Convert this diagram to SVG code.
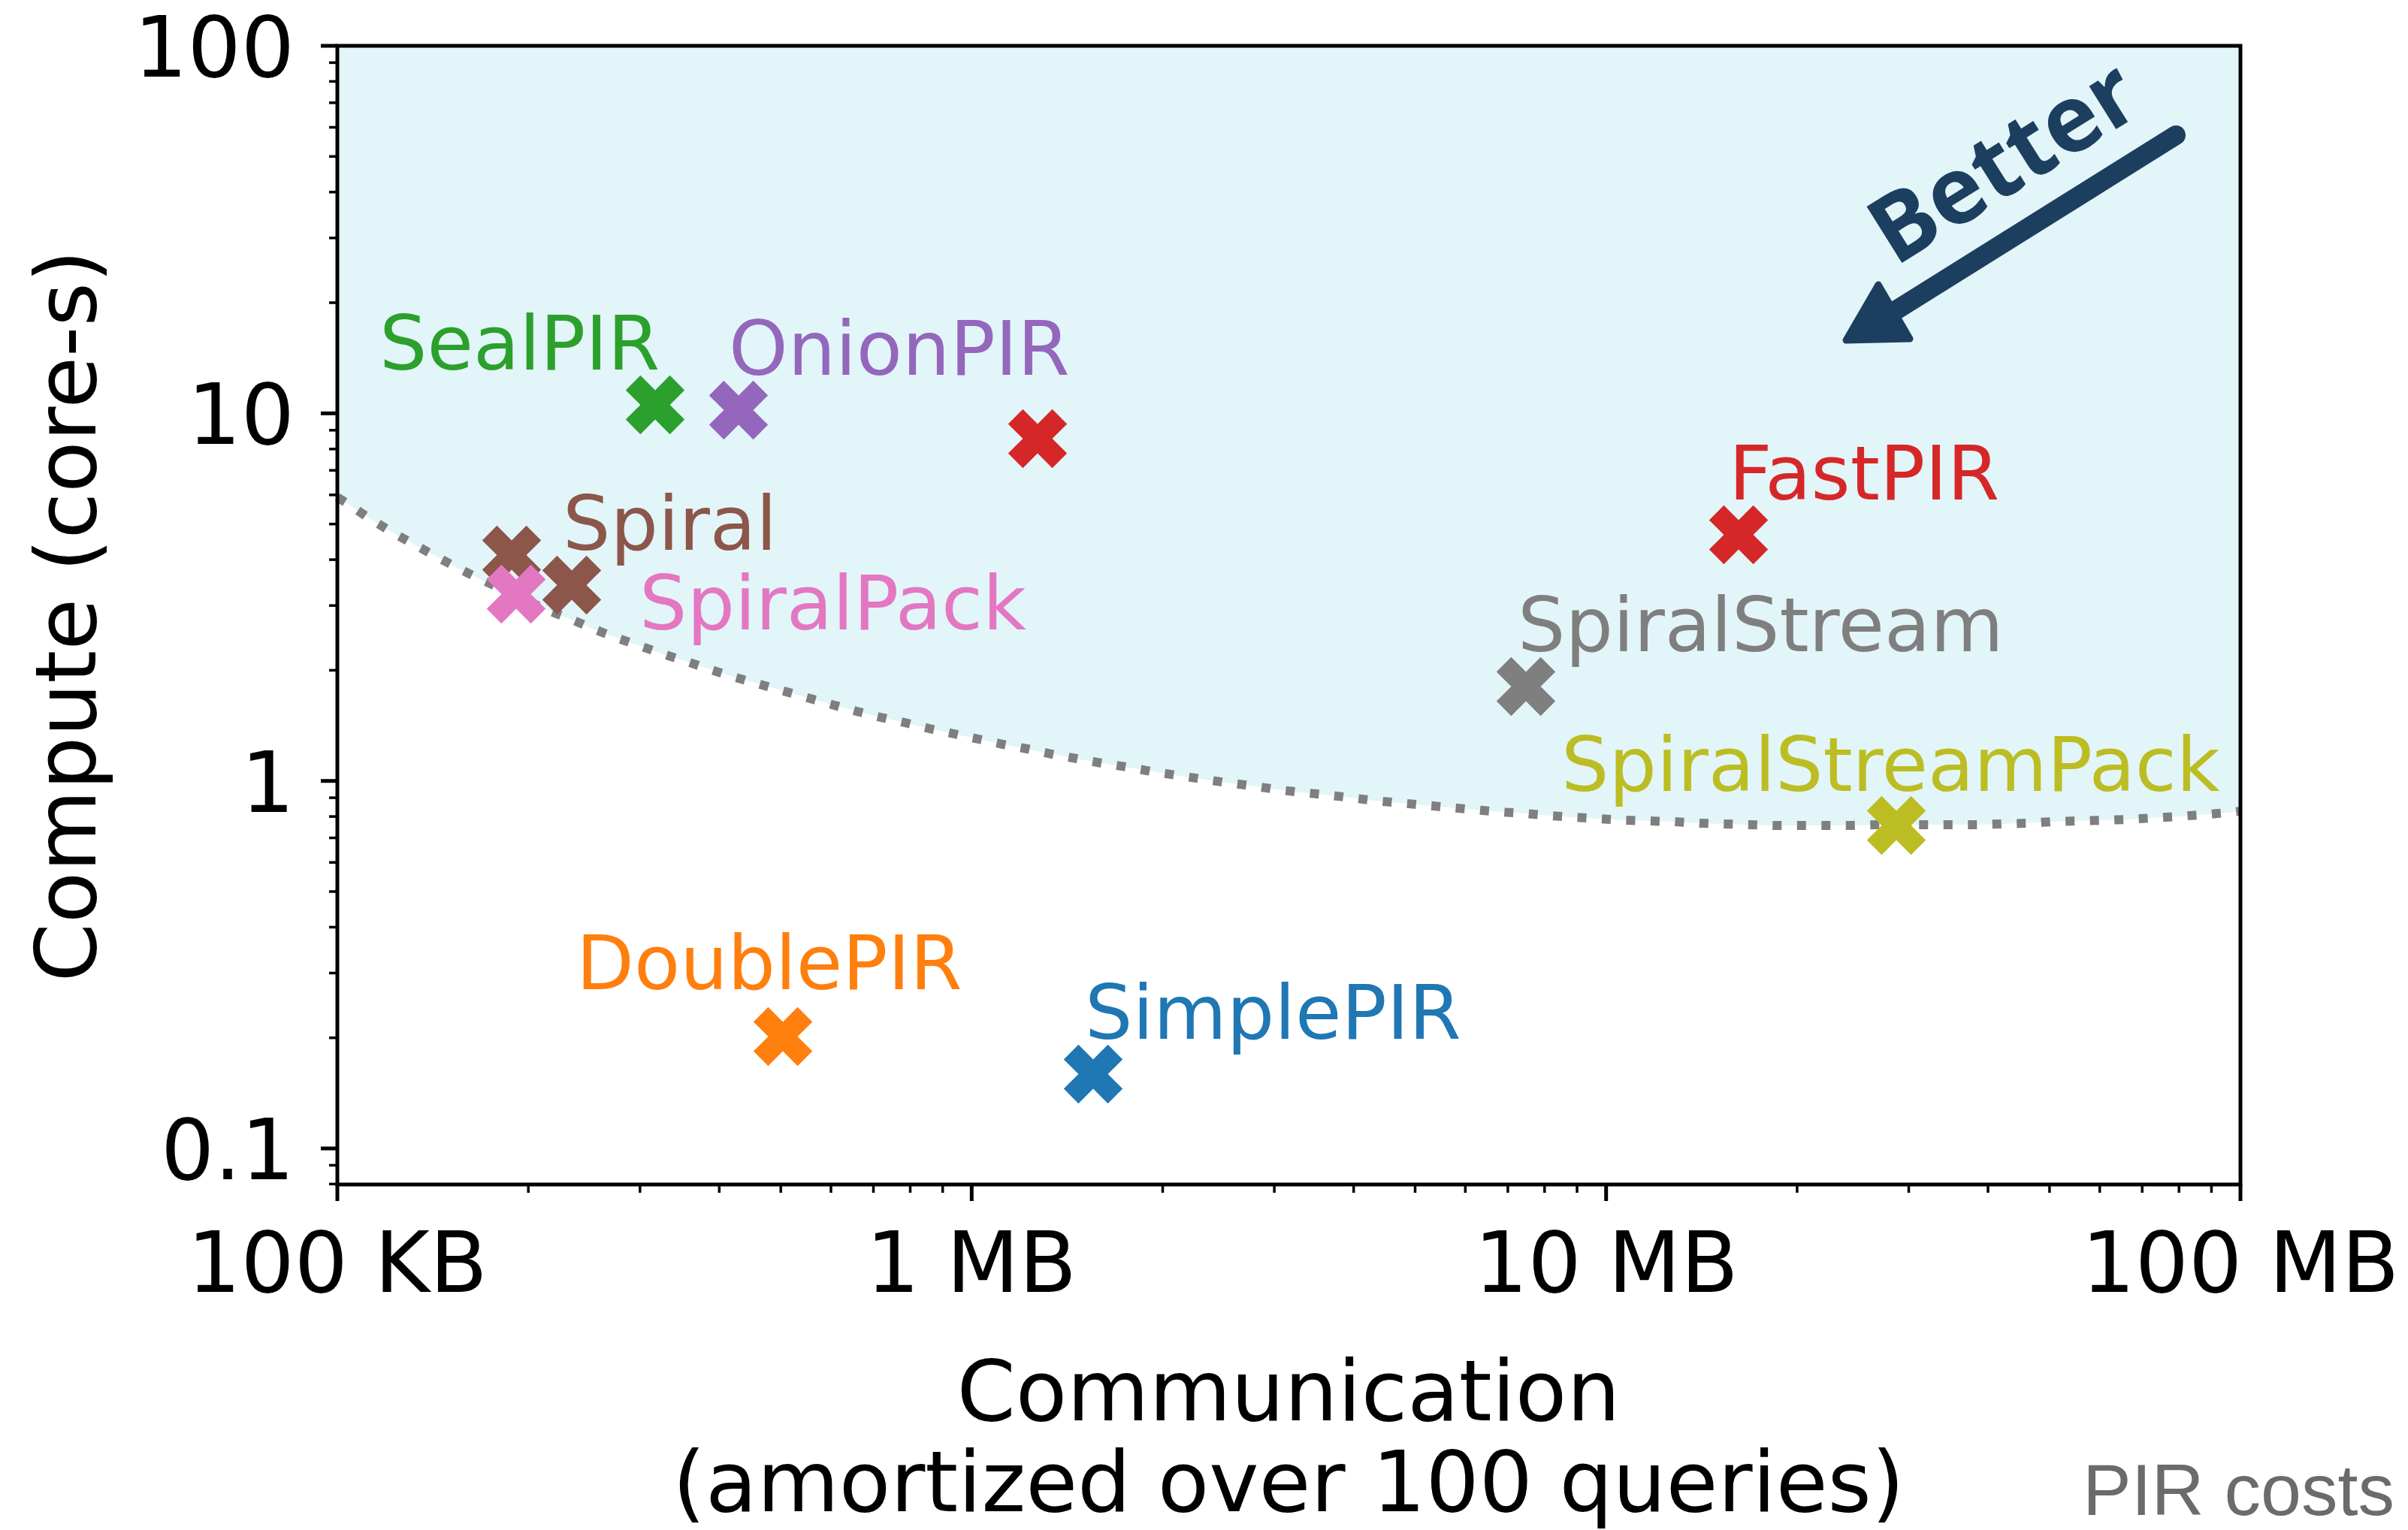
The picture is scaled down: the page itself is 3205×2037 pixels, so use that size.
<svg xmlns="http://www.w3.org/2000/svg" xmlns:xlink="http://www.w3.org/1999/xlink" width="3205" height="2037" viewBox="0 0 3205 2037">
<style>
.lbl{font-family:"DejaVu Sans",sans-serif;font-size:100px}
.tick{font-family:"DejaVu Sans",sans-serif;font-size:112px;fill:#000}
.axl{font-family:"DejaVu Sans",sans-serif;font-size:112px;fill:#000;text-anchor:middle}
.maj{stroke:#000;stroke-width:5}
.min{stroke:#000;stroke-width:3.5}
</style>
<defs>
<path id="xm" d="M19.6,-39.2 L0,-19.6 L-19.6,-39.2 L-39.2,-19.6 L-19.6,0 L-39.2,19.6 L-19.6,39.2 L0,19.6 L19.6,39.2 L39.2,19.6 L19.6,0 L39.2,-19.6 Z"/>
</defs>
<rect width="3205" height="2037" fill="#fff"/>
<g id="region">
<polygon fill="#e2f5f8" points="449,61 449,662 462,670 490,689 519,707 548,723 577,739 607,755 637,770 668,784 698,798 728,812 759,824 789,837 820,849 852,860 883,871 915,881 947,892 979,902 1011,911 1043,920 1075,929 1107,938 1140,947 1172,955 1204,962 1237,970 1270,977 1302,984 1335,991 1367,997 1400,1004 1433,1010 1466,1016 1499,1021 1532,1027 1565,1032 1599,1037 1632,1042 1665,1046 1698,1051 1731,1055 1764,1058 1797,1062 1830,1066 1863,1069 1896,1072 1929,1075 1962,1078 1996,1081 2029,1083 2063,1086 2095,1088 2129,1090 2162,1092 2196,1093 2229,1094 2262,1096 2295,1097 2329,1098 2362,1099 2396,1099 2429,1099 2463,1099 2496,1098 2530,1098 2563,1098 2597,1098 2630,1098 2664,1097 2697,1096 2731,1094 2764,1093 2798,1092 2831,1091 2865,1089 2898,1087 2929,1085 2963,1082 2982,1080 2982,61"/>
</g>
<g id="connectors">
<polyline fill="none" stroke="#7f7f7f" stroke-width="12" stroke-dasharray="12 20.5" points="449,662 462,670 490,689 519,707 548,723 577,739 607,755 637,770 668,784 698,798 728,812 759,824 789,837 820,849 852,860 883,871 915,881 947,892 979,902 1011,911 1043,920 1075,929 1107,938 1140,947 1172,955 1204,962 1237,970 1270,977 1302,984 1335,991 1367,997 1400,1004 1433,1010 1466,1016 1499,1021 1532,1027 1565,1032 1599,1037 1632,1042 1665,1046 1698,1051 1731,1055 1764,1058 1797,1062 1830,1066 1863,1069 1896,1072 1929,1075 1962,1078 1996,1081 2029,1083 2063,1086 2095,1088 2129,1090 2162,1092 2196,1093 2229,1094 2262,1096 2295,1097 2329,1098 2362,1099 2396,1099 2429,1099 2463,1099 2496,1098 2530,1098 2563,1098 2597,1098 2630,1098 2664,1097 2697,1096 2731,1094 2764,1093 2798,1092 2831,1091 2865,1089 2898,1087 2929,1085 2963,1082 2982,1080"/>
</g>
<g id="axes">
<rect x="449" y="61" width="2533" height="1516" fill="none" stroke="#000" stroke-width="5"/>
<g class="maj">
<line x1="427" y1="61" x2="449" y2="61"/><line x1="427" y1="550.3" x2="449" y2="550.3"/><line x1="427" y1="1039.7" x2="449" y2="1039.7"/><line x1="427" y1="1529" x2="449" y2="1529"/>
<line x1="449" y1="1577" x2="449" y2="1599"/><line x1="1293.3" y1="1577" x2="1293.3" y2="1599"/><line x1="2137.7" y1="1577" x2="2137.7" y2="1599"/><line x1="2982" y1="1577" x2="2982" y2="1599"/>
</g>
<g class="min">
<line x1="438" y1="403" x2="449" y2="403"/><line x1="438" y1="316.8" x2="449" y2="316.8"/><line x1="438" y1="255.7" x2="449" y2="255.7"/><line x1="438" y1="208.3" x2="449" y2="208.3"/><line x1="438" y1="169.5" x2="449" y2="169.5"/><line x1="438" y1="136.8" x2="449" y2="136.8"/><line x1="438" y1="108.4" x2="449" y2="108.4"/><line x1="438" y1="83.4" x2="449" y2="83.4"/>
<line x1="438" y1="892.4" x2="449" y2="892.4"/><line x1="438" y1="806.2" x2="449" y2="806.2"/><line x1="438" y1="745.1" x2="449" y2="745.1"/><line x1="438" y1="697.7" x2="449" y2="697.7"/><line x1="438" y1="658.9" x2="449" y2="658.9"/><line x1="438" y1="626.2" x2="449" y2="626.2"/><line x1="438" y1="597.8" x2="449" y2="597.8"/><line x1="438" y1="572.8" x2="449" y2="572.8"/>
<line x1="438" y1="1381.7" x2="449" y2="1381.7"/><line x1="438" y1="1295.5" x2="449" y2="1295.5"/><line x1="438" y1="1234.4" x2="449" y2="1234.4"/><line x1="438" y1="1187" x2="449" y2="1187"/><line x1="438" y1="1148.2" x2="449" y2="1148.2"/><line x1="438" y1="1115.5" x2="449" y2="1115.5"/><line x1="438" y1="1087.1" x2="449" y2="1087.1"/><line x1="438" y1="1062.1" x2="449" y2="1062.1"/>
<line x1="438" y1="1576.4" x2="449" y2="1576.4"/><line x1="438" y1="1551.4" x2="449" y2="1551.4"/>
<line x1="703.2" y1="1577" x2="703.2" y2="1588"/><line x1="851.8" y1="1577" x2="851.8" y2="1588"/><line x1="957.3" y1="1577" x2="957.3" y2="1588"/><line x1="1039.2" y1="1577" x2="1039.2" y2="1588"/><line x1="1106" y1="1577" x2="1106" y2="1588"/><line x1="1162.5" y1="1577" x2="1162.5" y2="1588"/><line x1="1211.5" y1="1577" x2="1211.5" y2="1588"/><line x1="1254.7" y1="1577" x2="1254.7" y2="1588"/>
<line x1="1547.5" y1="1577" x2="1547.5" y2="1588"/><line x1="1696.1" y1="1577" x2="1696.1" y2="1588"/><line x1="1801.7" y1="1577" x2="1801.7" y2="1588"/><line x1="1883.5" y1="1577" x2="1883.5" y2="1588"/><line x1="1950.3" y1="1577" x2="1950.3" y2="1588"/><line x1="2006.9" y1="1577" x2="2006.9" y2="1588"/><line x1="2055.8" y1="1577" x2="2055.8" y2="1588"/><line x1="2099" y1="1577" x2="2099" y2="1588"/>
<line x1="2391.9" y1="1577" x2="2391.9" y2="1588"/><line x1="2540.5" y1="1577" x2="2540.5" y2="1588"/><line x1="2646" y1="1577" x2="2646" y2="1588"/><line x1="2727.9" y1="1577" x2="2727.9" y2="1588"/><line x1="2794.7" y1="1577" x2="2794.7" y2="1588"/><line x1="2851.2" y1="1577" x2="2851.2" y2="1588"/><line x1="2900.2" y1="1577" x2="2900.2" y2="1588"/><line x1="2943.4" y1="1577" x2="2943.4" y2="1588"/>
</g>
<g class="tick" text-anchor="end">
<text x="392" y="102">100</text><text x="392" y="591">10</text><text x="392" y="1081">1</text><text x="392" y="1570">0.1</text>
</g>
<g class="tick" text-anchor="middle">
<text x="449" y="1720">100 KB</text><text x="1293" y="1720">1 MB</text><text x="2138" y="1720">10 MB</text><text x="2982" y="1720">100 MB</text>
</g>
<text class="axl" transform="translate(127,820) rotate(-90)">Compute (core-s)</text>
<text class="axl" x="1715" y="1891">Communication</text>
<text class="axl" x="1715" y="2012">(amortized over 100 queries)</text>
</g>
<g id="pt-red-unlabeled"><use xlink:href="#xm" transform="translate(1381,584)" fill="#d62728"/></g>
<g id="pt-sealpir"><use xlink:href="#xm" transform="translate(872,539)" fill="#2ca02c"/><text class="lbl" x="505" y="492" fill="#2ca02c">SealPIR</text></g>
<g id="pt-onionpir"><use xlink:href="#xm" transform="translate(983,546)" fill="#9467bd"/><text class="lbl" x="970" y="499" fill="#9467bd">OnionPIR</text></g>
<g id="pt-spiral"><use xlink:href="#xm" transform="translate(681,739)" fill="#8c564b"/><use xlink:href="#xm" transform="translate(761,779)" fill="#8c564b"/><text class="lbl" x="749" y="732" fill="#8c564b">Spiral</text></g>
<g id="pt-spiralpack"><use xlink:href="#xm" transform="translate(687,791)" fill="#e377c2"/><text class="lbl" x="851" y="838" fill="#e377c2">SpiralPack</text></g>
<g id="pt-fastpir"><use xlink:href="#xm" transform="translate(2314,712)" fill="#d62728"/><text class="lbl" x="2301" y="665" fill="#d62728">FastPIR</text></g>
<g id="pt-spiralstream"><use xlink:href="#xm" transform="translate(2031,914)" fill="#7f7f7f"/><text class="lbl" x="2020" y="867" fill="#7f7f7f">SpiralStream</text></g>
<g id="pt-spiralstreampack"><use xlink:href="#xm" transform="translate(2524,1099)" fill="#bcbd22"/><text class="lbl" x="2078" y="1053" fill="#bcbd22">SpiralStreamPack</text></g>
<g id="pt-doublepir"><use xlink:href="#xm" transform="translate(1042,1380)" fill="#ff7f0e"/><text class="lbl" x="767" y="1317" fill="#ff7f0e">DoublePIR</text></g>
<g id="pt-simplepir"><use xlink:href="#xm" transform="translate(1455,1430)" fill="#1f77b4"/><text class="lbl" x="1444" y="1383" fill="#1f77b4">SimplePIR</text></g>
<g id="better-arrow">
<line x1="2896" y1="180" x2="2522" y2="414" stroke="#1c3f60" stroke-width="26" stroke-linecap="round"/>
<polygon points="2457,453 2500,379 2542,451" fill="#1c3f60" stroke="#1c3f60" stroke-width="9" stroke-linejoin="round"/>
<text x="2522" y="356" transform="rotate(-32 2522 356)" font-family="'Open Sans','DejaVu Sans',sans-serif" font-weight="700" font-size="124" fill="#1c3f60">Better</text>
</g>
<text id="caption" x="3187" y="2017" text-anchor="end" font-family="'Liberation Sans',Arial,sans-serif" font-size="97" fill="#6b6b6b">PIR costs</text>
</svg>
